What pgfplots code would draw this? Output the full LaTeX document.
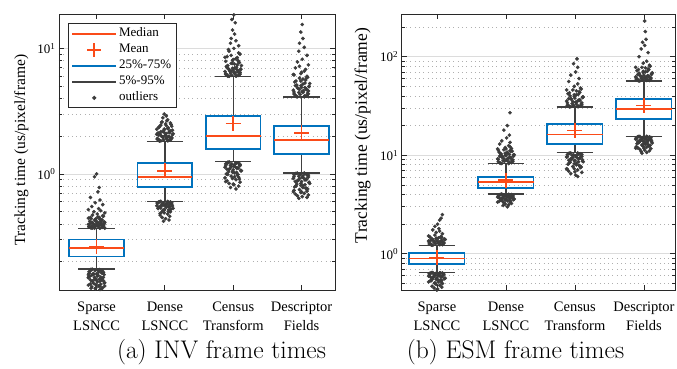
\documentclass[border=0pt]{standalone}
\usepackage{fontspec}
\usepackage{pgfplots}
\pgfplotsset{compat=1.18}
\newfontfamily\tms{Liberation Serif}
\definecolor{boxblue}{RGB}{0,114,189}
\definecolor{medred}{RGB}{250,75,25}
\definecolor{outgray}{RGB}{60,60,60}
\definecolor{whiskgray}{RGB}{64,64,64}
\definecolor{framegray}{RGB}{40,40,40}
\definecolor{majgrid}{RGB}{220,220,220}
\definecolor{mingrid}{RGB}{175,175,175}
\begin{document}
\begin{tikzpicture}
\path[use as bounding box] (0pt,0pt) rectangle (677pt,368pt);

% ---------------- (a) INV ----------------
\begin{axis}[
  at={(59pt,78pt)}, anchor=south west,
  scale only axis, width=276pt, height=276pt, ymode=log,
  unbounded coords=jump,
  axis line style={draw=framegray, line width=0.9pt},
  tick align=inside, xtick pos=both, ytick pos=both,
  major tick length=5pt, minor tick length=3pt,
  tick style={draw=framegray, line width=0.8pt},
  xtick={1,2,3,4},
  xticklabels={{Sparse\\LSNCC},{Dense\\LSNCC},{Census\\Transform},{Descriptor\\Fields}},
  xticklabel style={font=\tms\fontsize{14.5}{19.5}\selectfont, align=center, yshift=-8pt},
  yticklabel style={font=\tms\fontsize{13}{15}\selectfont},
  ylabel={Tracking time (us/pixel/frame)},
  ymajorgrids, yminorgrids,
  major grid style={draw=majgrid, line width=0.8pt},
  minor grid style={draw=mingrid, line width=0.7pt, dash pattern=on 0.7pt off 3.6pt},
  xmin=0.45, xmax=4.49, ymin=0.119, ymax=18.8,
  ytick={1,10}, yticklabels={10\textsuperscript{0},10\textsuperscript{1}},
  minor ytick={0.2,0.3,0.4,0.5,0.6,0.7,0.8,0.9,2,3,4,5,6,7,8,9},
  ylabel style={font=\tms\fontsize{15.5}{18}\selectfont, at={(rel axis cs:-0.136,0.507)}, anchor=center},
  legend style={at={(rel axis cs:0.032,0.966)}, anchor=north west, draw=framegray, line width=1pt,
    font=\tms\fontsize{13}{15}\selectfont, inner xsep=3pt, inner ysep=2pt,
    nodes={inner sep=2pt, text height=9pt, text depth=3pt}, row sep=0pt},
  legend cell align=left,
]
\addlegendimage{legend image code/.code={\draw[medred, line width=1.5pt] (0pt,0pt) -- (44pt,0pt);}}
\addlegendimage{legend image code/.code={\draw[medred, line width=1.5pt] (22pt,-7pt) -- (22pt,7pt) (15pt,0pt) -- (29pt,0pt);}}
\addlegendimage{legend image code/.code={\draw[boxblue, line width=1.8pt] (0pt,0pt) -- (44pt,0pt);}}
\addlegendimage{legend image code/.code={\draw[whiskgray, line width=1.3pt] (0pt,0pt) -- (44pt,0pt);}}
\addlegendimage{legend image code/.code={\fill[outgray] (22pt,0pt) circle (1.6pt);}}

% outliers
\addplot[only marks, mark=*, mark size=1.65pt, color=outgray] coordinates {
(0.92,0.37)(1.05,0.37)(0.98,0.38)(1.09,0.38)(0.89,0.38)(1.03,0.39)(1.07,0.39)(0.95,0.40)(1.00,0.40)(1.11,0.40)
(0.93,0.41)(1.02,0.41)(0.90,0.42)(1.06,0.42)(0.97,0.43)(1.08,0.43)(0.99,0.44)(1.04,0.45)(0.91,0.45)(1.10,0.46)
(0.94,0.47)(1.01,0.48)(1.12,0.49)(0.96,0.50)(1.06,0.51)(0.88,0.52)(1.03,0.53)(0.93,0.55)(1.09,0.57)(0.98,0.59)
(1.05,0.62)(0.91,0.65)(1.02,0.72)(1.04,0.78)(0.97,0.95)(1.00,1.0)
(1.04,0.372)(0.91,0.376)(1.10,0.383)(0.96,0.387)(1.01,0.392)(0.88,0.397)(1.07,0.405)(0.94,0.41)(1.11,0.415)(0.99,0.425)
(1.05,0.435)(0.92,0.44)(1.02,0.455)(1.09,0.465)(0.89,0.38)(1.00,0.39)(1.06,0.40)(0.97,0.37)(1.12,0.37)(0.93,0.385)
(0.94,0.371)(1.08,0.375)(0.89,0.379)(1.02,0.384)(1.10,0.389)(0.97,0.394)(1.05,0.399)(0.91,0.404)(1.12,0.412)(0.99,0.42)(1.07,0.43)(0.88,0.445)
(0.92,0.174)(1.05,0.172)(0.98,0.17)(1.09,0.168)(0.89,0.166)(1.03,0.165)(1.07,0.163)(0.95,0.161)(1.00,0.16)(1.11,0.158)
(0.93,0.156)(1.02,0.155)(0.90,0.153)(1.06,0.151)(0.97,0.15)(1.08,0.148)(0.99,0.146)(1.04,0.145)(0.91,0.143)(1.10,0.141)
(0.94,0.14)(1.01,0.138)(1.12,0.136)(0.96,0.134)(1.06,0.132)(0.88,0.13)(1.03,0.128)(0.93,0.126)(1.09,0.124)(0.98,0.122)(1.05,0.12)
(1.04,0.173)(0.91,0.169)(1.10,0.164)(0.96,0.159)(1.01,0.154)(0.88,0.149)(1.07,0.144)(0.94,0.139)(1.11,0.135)(0.99,0.131)
(1.05,0.127)(0.92,0.123)(1.02,0.171)(1.09,0.162)(0.89,0.152)(1.00,0.142)
(0.94,0.174)(1.08,0.167)(0.89,0.161)(1.02,0.156)(1.10,0.15)(0.97,0.145)(1.05,0.139)(0.91,0.133)(1.12,0.128)(0.99,0.124)(1.07,0.121)(0.88,0.157)
(1.92,1.83)(2.05,1.85)(1.98,1.87)(2.09,1.9)(1.89,1.92)(2.03,1.95)(2.07,1.97)(1.95,2.0)(2.00,2.02)(2.11,2.05)
(1.93,2.08)(2.02,2.1)(1.90,2.12)(2.06,2.15)(1.97,2.18)(2.08,2.2)(1.99,2.25)(2.04,2.3)(1.91,2.35)(2.10,2.4)
(1.94,2.45)(2.01,2.5)(2.08,2.55)(1.96,2.6)(2.04,2.7)(1.97,2.8)(2.02,2.9)(1.99,3.0)
(2.04,1.84)(1.91,1.88)(2.10,1.93)(1.96,1.98)(2.01,2.03)(1.88,2.07)(2.07,2.13)(1.94,2.17)(2.11,2.23)(1.99,2.28)
(2.05,2.33)(1.92,2.38)(2.02,2.43)(2.09,2.48)(1.95,2.58)(2.03,2.65)
(1.94,1.835)(2.08,1.86)(1.89,1.89)(2.02,1.91)(2.10,1.94)(1.97,1.96)(2.05,1.99)(1.91,2.04)(2.12,2.09)(1.99,2.14)(2.07,2.19)(1.88,2.27)
(1.92,0.60)(2.05,0.595)(1.98,0.59)(2.09,0.585)(1.89,0.58)(2.03,0.575)(2.07,0.57)(1.95,0.565)(2.00,0.56)(2.11,0.555)
(1.93,0.55)(2.02,0.54)(1.90,0.53)(2.06,0.52)(1.97,0.51)(2.08,0.50)(1.99,0.49)(2.04,0.48)(1.93,0.47)(2.07,0.46)
(1.96,0.45)(2.01,0.44)(2.06,0.43)(1.98,0.42)
(2.04,0.603)(1.91,0.597)(2.10,0.588)(1.96,0.578)(2.01,0.568)(1.88,0.558)(2.07,0.548)(1.94,0.535)(2.09,0.525)(1.99,0.515)
(2.05,0.505)(1.95,0.495)
(1.94,0.605)(2.08,0.598)(1.89,0.59)(2.02,0.582)(2.10,0.572)(1.97,0.562)(2.05,0.552)(1.91,0.542)(2.12,0.532)(1.99,0.52)(2.07,0.505)(1.93,0.485)
(2.92,6.0)(3.05,6.05)(2.98,6.1)(3.09,6.2)(2.89,6.3)(3.03,6.4)(3.07,6.5)(2.95,6.6)(3.00,6.7)(3.11,6.8)
(2.93,6.9)(3.02,7.0)(2.90,7.2)(3.06,7.4)(2.97,7.6)(3.08,7.8)(2.99,8.0)(3.04,8.3)(2.91,8.6)(3.10,9.0)
(2.94,9.5)(3.01,10)(3.08,10.5)(2.96,11)(3.04,11.5)(2.97,12)(3.02,13)(2.99,14)(3.03,16)(2.98,17)(3.01,18.5)
(3.04,6.02)(2.91,6.15)(3.10,6.25)(2.96,6.35)(3.01,6.45)(2.88,6.55)(3.07,6.65)(2.94,6.75)(3.11,6.85)(2.99,6.95)
(3.05,7.1)(2.92,7.3)(3.02,7.5)(3.09,7.7)(2.89,7.9)(3.00,8.15)(3.06,8.45)(2.97,8.8)(3.08,9.2)(2.93,9.8)
(2.94,6.0)(3.08,6.1)(2.89,6.2)(3.02,6.3)(3.10,6.45)(2.97,6.6)(3.05,6.8)(2.91,7.0)(3.12,7.3)(2.99,7.6)(3.07,8.0)(2.88,8.5)
(2.92,1.24)(3.05,1.22)(2.98,1.2)(3.09,1.18)(2.89,1.16)(3.03,1.14)(3.07,1.12)(2.95,1.1)(3.00,1.08)(3.11,1.06)
(2.93,1.04)(3.02,1.02)(2.90,1.0)(3.06,0.98)(2.97,0.96)(3.08,0.94)(2.99,0.92)(3.04,0.9)(2.91,0.88)(3.10,0.86)
(2.94,0.84)(3.01,0.82)(3.08,0.8)(2.96,0.78)(3.04,0.76)
(3.04,1.23)(2.91,1.21)(3.10,1.19)(2.96,1.17)(3.01,1.15)(2.88,1.13)(3.07,1.11)(2.94,1.09)(3.11,1.07)(2.99,1.05)
(3.05,1.03)(2.92,0.99)(3.02,0.95)(3.09,0.91)(2.89,0.87)(3.00,0.83)
(2.94,1.245)(3.08,1.225)(2.89,1.205)(3.02,1.185)(3.10,1.165)(2.97,1.14)(3.05,1.115)(2.91,1.09)(3.12,1.06)(2.99,1.03)(3.07,0.99)(2.88,0.93)
(3.92,4.15)(4.05,4.2)(3.98,4.3)(4.09,4.4)(3.89,4.5)(4.03,4.6)(4.07,4.7)(3.95,4.8)(4.00,4.9)(4.11,5.0)
(3.93,5.1)(4.02,5.2)(3.90,5.4)(4.06,5.6)(3.97,5.8)(4.08,6.0)(3.99,6.3)(4.04,6.6)(3.91,7.0)(4.10,7.4)
(3.94,7.8)(4.01,8.2)(4.08,8.8)(3.96,9.5)(4.04,10.2)(3.97,11)(4.02,12)(3.99,13.5)(4.01,15.5)
(4.04,4.12)(3.91,4.25)(4.10,4.35)(3.96,4.45)(4.01,4.55)(3.88,4.65)(4.07,4.75)(3.94,4.85)(4.11,4.95)(3.99,5.05)
(4.05,5.3)(3.92,5.5)(4.02,5.7)(4.09,5.9)(3.89,6.15)(4.00,6.45)(4.06,6.8)(3.97,7.2)
(3.94,4.12)(4.08,4.22)(3.89,4.33)(4.02,4.45)(4.10,4.58)(3.97,4.72)(4.05,4.88)(3.91,5.05)(4.12,5.25)(3.99,5.5)(4.07,5.8)(3.88,6.2)
(3.92,1.01)(4.05,1.0)(3.98,0.99)(4.09,0.97)(3.89,0.95)(4.03,0.93)(4.07,0.91)(3.95,0.89)(4.00,0.87)(4.11,0.85)
(3.93,0.83)(4.02,0.81)(3.90,0.79)(4.06,0.77)(3.97,0.75)(4.08,0.73)(3.99,0.71)(4.04,0.70)(3.91,0.69)(4.10,0.68)
(3.94,0.67)(4.01,0.66)(4.08,0.65)(3.96,0.64)
(4.04,1.015)(3.91,1.005)(4.10,0.98)(3.96,0.96)(4.01,0.94)(3.88,0.92)(4.07,0.90)(3.94,0.88)(4.11,0.86)(3.99,0.84)
(4.05,0.82)(3.92,0.80)(4.02,0.78)(4.09,0.76)(3.89,0.74)(4.00,0.72)
(3.94,1.015)(4.08,1.0)(3.89,0.985)(4.02,0.965)(4.10,0.945)(3.97,0.92)(4.05,0.895)(3.91,0.87)(4.12,0.84)(3.99,0.81)(4.07,0.77)(3.88,0.72)
};

% whiskers (5%-95%) with caps
\addplot[whiskgray, line width=1.3pt, mark=none] coordinates {
(1,0.22)(1,0.175)(1,nan)(0.735,0.175)(1.265,0.175)(1,nan)(1,0.300)(1,0.367)(1,nan)(0.735,0.367)(1.265,0.367)(1,nan)
(2,0.79)(2,0.607)(2,nan)(1.735,0.607)(2.265,0.607)(2,nan)(2,1.22)(2,1.82)(2,nan)(1.735,1.82)(2.265,1.82)(2,nan)
(3,1.57)(3,1.25)(3,nan)(2.735,1.25)(3.265,1.25)(3,nan)(3,2.91)(3,5.94)(3,nan)(2.735,5.94)(3.265,5.94)(3,nan)
(4,1.44)(4,1.02)(4,nan)(3.735,1.02)(4.265,1.02)(4,nan)(4,2.40)(4,4.1)(4,nan)(3.735,4.1)(4.265,4.1)
};
% boxes (25%-75%)
\addplot[boxblue, line width=1.8pt, mark=none] coordinates {(0.6,0.22)(1.4,0.22)(1.4,0.300)(0.6,0.300)(0.6,0.22)(1.4,0.22)};
\addplot[boxblue, line width=1.8pt, mark=none] coordinates {(1.6,0.79)(2.4,0.79)(2.4,1.22)(1.6,1.22)(1.6,0.79)(2.4,0.79)};
\addplot[boxblue, line width=1.8pt, mark=none] coordinates {(2.6,1.57)(3.4,1.57)(3.4,2.91)(2.6,2.91)(2.6,1.57)(3.4,1.57)};
\addplot[boxblue, line width=1.8pt, mark=none] coordinates {(3.6,1.44)(4.4,1.44)(4.4,2.40)(3.6,2.40)(3.6,1.44)(4.4,1.44)};
% medians
\addplot[medred, line width=1.6pt, mark=none] coordinates {(0.6,0.258)(1.4,0.258)(1,nan)(1.6,0.95)(2.4,0.95)(2,nan)(2.6,2.0)(3.4,2.0)(3,nan)(3.6,1.87)(4.4,1.87)};
% means
\addplot[only marks, mark=+, mark size=7.5pt, color=medred, line width=1.6pt, mark options={line width=1.6pt, draw=medred}] coordinates {(1,0.262) (2,1.06) (3,2.53) (4,2.12)};

\legend{Median, Mean, 25\%-75\%, 5\%-95\%, outliers}
\end{axis}

% ---------------- (b) ESM ----------------
\begin{axis}[
  at={(401.7pt,78pt)}, anchor=south west,
  scale only axis, width=273.3pt, height=276pt, ymode=log,
  unbounded coords=jump,
  axis line style={draw=framegray, line width=0.9pt},
  tick align=inside, xtick pos=both, ytick pos=both,
  major tick length=5pt, minor tick length=3pt,
  tick style={draw=framegray, line width=0.8pt},
  xtick={1,2,3,4},
  xticklabels={{Sparse\\LSNCC},{Dense\\LSNCC},{Census\\Transform},{Descriptor\\Fields}},
  xticklabel style={font=\tms\fontsize{14.5}{19.5}\selectfont, align=center, yshift=-8pt},
  yticklabel style={font=\tms\fontsize{13}{15}\selectfont},
  ylabel={Tracking time (us/pixel/frame)},
  ymajorgrids, yminorgrids,
  major grid style={draw=majgrid, line width=0.8pt},
  minor grid style={draw=mingrid, line width=0.7pt, dash pattern=on 0.7pt off 3.6pt},
  xmin=0.49, xmax=4.45, ymin=0.43, ymax=271,
  ytick={1,10,100}, yticklabels={10\textsuperscript{0},10\textsuperscript{1},10\textsuperscript{2}},
  minor ytick={0.5,0.6,0.7,0.8,0.9,2,3,4,5,6,7,8,9,20,30,40,50,60,70,80,90,200},
  ylabel style={font=\tms\fontsize{17.5}{20}\selectfont, at={(rel axis cs:-0.143,0.56)}, anchor=center},
]
\addplot[only marks, mark=*, mark size=1.65pt, color=outgray] coordinates {
(0.92,1.23)(1.05,1.25)(0.98,1.27)(1.09,1.29)(0.89,1.3)(1.03,1.32)(1.07,1.34)(0.95,1.36)(1.00,1.38)(1.11,1.4)
(0.93,1.42)(1.02,1.45)(0.90,1.48)(1.06,1.5)(0.97,1.55)(1.08,1.6)(0.99,1.65)(1.04,1.7)(0.94,1.75)(1.03,1.8)
(0.97,1.9)(1.01,2.0)(1.04,2.2)(1.06,2.3)(1.08,2.5)
(1.04,1.24)(0.91,1.26)(1.10,1.28)(0.96,1.31)(1.01,1.33)(0.88,1.35)(1.07,1.37)(0.94,1.39)(1.11,1.41)(0.99,1.44)(1.05,1.47)
(0.94,1.225)(1.08,1.24)(0.89,1.26)(1.02,1.28)(1.10,1.3)(0.97,1.32)(1.05,1.34)(0.91,1.37)(1.12,1.4)(0.99,1.43)(1.07,1.47)(0.88,1.52)
(0.92,0.645)(1.05,0.64)(0.98,0.63)(1.09,0.62)(0.89,0.61)(1.03,0.6)(1.07,0.59)(0.95,0.58)(1.00,0.57)(1.11,0.56)
(0.93,0.55)(1.02,0.54)(0.90,0.53)(1.06,0.52)(0.97,0.51)(1.08,0.5)(0.99,0.49)(1.04,0.48)(0.93,0.47)(1.07,0.46)
(0.96,0.45)(1.01,0.44)(1.00,0.43)
(1.04,0.642)(0.91,0.635)(1.10,0.625)(0.96,0.615)(1.01,0.605)(0.88,0.595)(1.07,0.585)(0.94,0.575)(1.11,0.565)(0.99,0.555)
(1.05,0.545)(0.92,0.535)(1.02,0.52)(0.97,0.5)
(0.94,0.648)(1.08,0.641)(0.89,0.633)(1.02,0.624)(1.10,0.614)(0.97,0.603)(1.05,0.592)(0.91,0.58)(1.12,0.567)(0.99,0.553)(1.07,0.538)(0.88,0.52)
(1.92,8.3)(2.05,8.5)(1.98,8.7)(2.09,8.9)(1.89,9.1)(2.03,9.3)(2.07,9.5)(1.95,9.7)(2.00,9.9)(2.11,10.1)
(1.93,10.3)(2.02,10.5)(1.90,10.8)(2.06,11.1)(1.97,11.4)(2.08,11.7)(1.99,12)(2.04,12.5)(1.91,13)(2.06,13.5)
(1.94,14)(2.01,15)(2.05,16)(1.97,18)(2.02,20)(2.06,27)
(2.04,8.25)(1.91,8.4)(2.10,8.6)(1.96,8.8)(2.01,9.0)(1.88,9.2)(2.07,9.4)(1.94,9.6)(2.11,9.8)(1.99,10.0)
(2.05,10.2)(1.92,10.4)(2.02,10.7)(2.09,11)(1.89,11.3)(2.00,11.6)(2.06,12.2)
(1.94,8.25)(2.08,8.4)(1.89,8.6)(2.02,8.8)(2.10,9.0)(1.97,9.25)(2.05,9.5)(1.91,9.8)(2.12,10.1)(1.99,10.5)(2.07,11)(1.88,11.6)
(1.92,4.0)(2.05,3.95)(1.98,3.9)(2.09,3.85)(1.89,3.8)(2.03,3.75)(2.07,3.7)(1.95,3.65)(2.00,3.6)(2.11,3.55)
(1.93,3.5)(2.02,3.45)(1.90,3.4)(2.06,3.35)(1.97,3.3)(2.08,3.25)(1.99,3.2)(2.04,3.15)(1.96,3.1)(2.02,3.0)
(2.04,4.02)(1.91,3.97)(2.10,3.92)(1.96,3.87)(2.01,3.82)(1.88,3.77)(2.07,3.72)(1.94,3.67)(2.11,3.62)(1.99,3.57)
(2.05,3.52)(1.95,3.42)
(1.94,4.04)(2.08,4.0)(1.89,3.95)(2.02,3.9)(2.10,3.84)(1.97,3.78)(2.05,3.72)(1.91,3.66)(2.12,3.6)(1.99,3.52)(2.07,3.44)(1.88,3.35)
(2.92,31)(3.05,31.5)(2.98,32)(3.09,33)(2.89,34)(3.03,35)(3.07,36)(2.95,37)(3.00,38)(3.11,39)
(2.93,40)(3.02,41)(2.90,42)(3.06,44)(2.97,46)(3.08,48)(2.99,50)(3.04,53)(2.91,56)(3.06,60)
(2.94,65)(3.01,70)(3.04,78)(2.98,85)(3.03,95)
(3.04,31.2)(2.91,31.8)(3.10,32.5)(2.96,33.5)(3.01,34.5)(2.88,35.5)(3.07,36.5)(2.94,37.5)(3.11,38.5)(2.99,39.5)
(3.05,41.5)(2.92,43)(3.02,45)(3.09,47)
(2.94,31.1)(3.08,31.6)(2.89,32.2)(3.02,33)(3.10,34)(2.97,35)(3.05,36.2)(2.91,37.5)(3.12,39)(2.99,41)(3.07,43.5)(2.88,46)
(2.92,10.5)(3.05,10.3)(2.98,10.1)(3.09,9.9)(2.89,9.7)(3.03,9.5)(3.07,9.3)(2.95,9.1)(3.00,8.9)(3.11,8.7)
(2.93,8.5)(3.02,8.3)(2.90,8.1)(3.06,7.9)(2.97,7.7)(3.08,7.5)(2.99,7.3)(3.04,7.1)(2.91,6.9)(3.10,6.7)
(2.94,6.5)(3.01,6.3)(3.04,6.1)
(3.04,10.55)(2.91,10.4)(3.10,10.2)(2.96,10.0)(3.01,9.8)(2.88,9.6)(3.07,9.4)(2.94,9.2)(3.11,9.0)(2.99,8.8)
(3.05,8.6)(2.92,8.4)(3.02,8.0)(3.09,7.6)(2.89,7.2)(3.00,6.8)
(2.94,10.55)(3.08,10.35)(2.89,10.15)(3.02,9.95)(3.10,9.7)(2.97,9.45)(3.05,9.2)(2.91,8.9)(3.12,8.6)(2.99,8.2)(3.07,7.8)(2.88,7.3)
(3.92,57)(4.05,58)(3.98,59)(4.09,60)(3.89,61)(4.03,62)(4.07,63)(3.95,64)(4.00,65)(4.11,66)
(3.93,68)(4.02,70)(3.90,72)(4.06,75)(3.97,78)(4.08,82)(3.99,86)(4.04,90)(3.93,100)(4.06,110)
(3.96,120)(4.01,130)(3.98,140)(4.03,150)(4.02,180)(4.01,230)
(4.04,57.5)(3.91,58.5)(4.10,59.5)(3.96,60.5)(4.01,61.5)(3.88,62.5)(4.07,63.5)(3.94,64.5)(4.11,67)(3.99,69)
(4.05,71)(3.92,74)(4.02,77)(4.09,80)
(3.94,56.8)(4.08,57.5)(3.89,58.5)(4.02,59.5)(4.10,61)(3.97,62.5)(4.05,64)(3.91,66)(4.12,68.5)(3.99,71)(4.07,74)(3.88,78)
(3.92,15.5)(4.05,15.3)(3.98,15.1)(4.09,14.9)(3.89,14.7)(4.03,14.5)(4.07,14.3)(3.95,14.1)(4.00,13.9)(4.11,13.7)
(3.93,13.5)(4.02,13.3)(3.90,13.1)(4.06,12.9)(3.97,12.7)(4.08,12.5)(3.99,12.3)(4.04,12.1)(3.91,11.9)(4.10,11.7)
(3.94,11.5)(4.01,11.3)(4.08,11.1)(3.96,10.9)(4.04,10.7)(3.97,10.5)
(4.04,15.55)(3.91,15.4)(4.10,15.2)(3.96,15.0)(4.01,14.8)(3.88,14.6)(4.07,14.4)(3.94,14.2)(4.11,14.0)(3.99,13.8)
(4.05,13.6)(3.92,13.4)(4.02,13.0)(4.09,12.6)(3.89,12.2)(4.00,11.8)
(3.94,15.55)(4.08,15.35)(3.89,15.1)(4.02,14.85)(4.10,14.6)(3.97,14.3)(4.05,14.0)(3.91,13.7)(4.12,13.3)(3.99,12.9)(4.07,12.4)(3.88,11.8)
};

\addplot[whiskgray, line width=1.3pt, mark=none] coordinates {
(1,0.79)(1,0.65)(1,nan)(0.735,0.65)(1.265,0.65)(1,nan)(1,1.03)(1,1.22)(1,nan)(0.735,1.22)(1.265,1.22)(1,nan)
(2,4.63)(2,4.05)(2,nan)(1.735,4.05)(2.265,4.05)(2,nan)(2,6.07)(2,8.2)(2,nan)(1.735,8.2)(2.265,8.2)(2,nan)
(3,12.9)(3,10.6)(3,nan)(2.735,10.6)(3.265,10.6)(3,nan)(3,20.8)(3,30.9)(3,nan)(2.735,30.9)(3.265,30.9)(3,nan)
(4,23.2)(4,15.6)(4,nan)(3.735,15.6)(4.265,15.6)(4,nan)(4,37.2)(4,56.6)(4,nan)(3.735,56.6)(4.265,56.6)
};
\addplot[boxblue, line width=1.8pt, mark=none] coordinates {(0.6,0.79)(1.4,0.79)(1.4,1.03)(0.6,1.03)(0.6,0.79)(1.4,0.79)};
\addplot[boxblue, line width=1.8pt, mark=none] coordinates {(1.6,4.63)(2.4,4.63)(2.4,6.07)(1.6,6.07)(1.6,4.63)(2.4,4.63)};
\addplot[boxblue, line width=1.8pt, mark=none] coordinates {(2.6,12.9)(3.4,12.9)(3.4,20.8)(2.6,20.8)(2.6,12.9)(3.4,12.9)};
\addplot[boxblue, line width=1.8pt, mark=none] coordinates {(3.6,23.2)(4.4,23.2)(4.4,37.2)(3.6,37.2)(3.6,23.2)(4.4,23.2)};
\addplot[medred, line width=1.6pt, mark=none] coordinates {(0.6,0.90)(1.4,0.90)(1,nan)(1.6,5.33)(2.4,5.33)(2,nan)(2.6,16.3)(3.4,16.3)(3,nan)(3.6,29.4)(4.4,29.4)};
\addplot[only marks, mark=+, mark size=7.5pt, color=medred, line width=1.6pt, mark options={line width=1.6pt, draw=medred}] coordinates {(1,0.92) (2,5.58) (3,17.9) (4,32.0)};
\end{axis}

\node[font=\fontsize{25.5}{28}\selectfont, anchor=base] at (221.5pt,10pt) {(a) INV frame times};
\node[font=\fontsize{25.5}{28}\selectfont, anchor=base] at (515.5pt,10pt) {(b) ESM frame times};
\end{tikzpicture}
\end{document}
